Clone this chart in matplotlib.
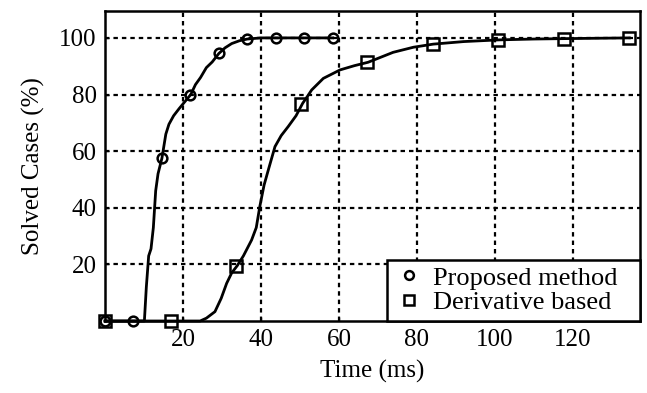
import matplotlib
matplotlib.use("Agg")
import matplotlib.pyplot as plt

plt.rcParams['font.family'] = ['Liberation Serif', 'DejaVu Serif']
plt.rcParams['font.size'] = 18

# curve samples (time in ms, solved %)
prop_t = [0, 10.1, 10.6, 11.2, 11.8, 12.4, 13.0, 13.6, 14.6, 15.6, 16.4, 17.6, 19.0, 20.5,
          22.0, 23.2, 24.5, 26.0, 27.5, 29.2, 30.8, 32.5, 34.5, 36.5, 40.0, 58.4]
prop_y = [0, 0, 12, 23, 25.5, 33, 46, 52, 57.5, 66, 69.5, 72.5, 75, 77.5,
          80, 83.5, 86, 89.5, 91.5, 94.5, 96.5, 98, 99, 99.6, 100, 100]
prop_mt = [0, 7.3, 14.6, 21.9, 29.2, 36.5, 43.8, 51.1, 58.4]
prop_my = [0, 0, 57.5, 80, 94.5, 99.5, 100, 100, 100]

deriv_t = [0, 24.4, 26.0, 28.2, 29.8, 31.2, 32.5, 33.9, 35.5, 37.6, 38.8, 39.7, 40.8, 41.9,
           43.6, 45.2, 47.0, 49.0, 50.7, 52.0, 53.0, 56.0, 60.3, 64.0, 67.5, 73.9, 79.1,
           84.2, 92.0, 101.0, 110.0, 118.0, 134.5]
deriv_y = [0, 0, 1, 3.3, 8, 13.3, 17, 19.5, 23, 28.6, 33, 40.4, 48, 53.4,
           61.6, 65.5, 68.7, 72.5, 76.9, 79.5, 81.6, 85.7, 88.7, 90.2, 91.4, 94.9, 96.7,
           97.8, 98.7, 99.3, 99.6, 99.75, 100]
deriv_mt = [0, 16.8, 33.6, 50.4, 67.3, 84.1, 100.9, 117.7, 134.5]
deriv_my = [0, 0, 19.5, 76.5, 91.4, 97.8, 99.3, 99.7, 100]

xticks = [20, 40, 60, 80, 100, 120]
yticks = [20, 40, 60, 80, 100]

fig = plt.figure(figsize=(6.47, 3.93), dpi=100)
ax = fig.add_axes([0.1623, 0.1832, 0.989 - 0.1623, 0.972 - 0.1832])

ax.plot(prop_t, prop_y, 'k-', lw=2, clip_on=False, zorder=3)
ax.plot(deriv_t, deriv_y, 'k-', lw=2, clip_on=False, zorder=3)
ax.plot(prop_mt, prop_my, 'o', ms=7, mfc='none', mec='k', mew=1.8,
        ls='none', clip_on=False, zorder=4, label='Proposed method')
ax.plot(deriv_mt, deriv_my, 's', ms=8.5, mfc='none', mec='k', mew=1.8,
        ls='none', clip_on=False, zorder=4, label='Derivative based')

ax.set_xlim(0, 137.2)
ax.set_ylim(0, 109.5)
ax.set_xticks(xticks)
ax.set_yticks(yticks)
ax.tick_params(direction='in', length=3, width=1, pad=6)
ax.grid(True, color='k', ls=(0, (2, 1.8)), lw=1.6)
for s in ax.spines.values():
    s.set_linewidth(1.8)

ax.set_xlabel('Time (ms)', labelpad=6)
ax.set_ylabel('Solved Cases (%)', labelpad=10)

leg = ax.legend(loc='lower left', bbox_to_anchor=(0.527, 0, 0.473, 0.2), mode='expand',
                borderaxespad=0, fancybox=False,
                edgecolor='k', framealpha=1, fontsize=19, handlelength=1.17,
                handletextpad=0.33, borderpad=0.25, labelspacing=0.05,
                markerscale=0.9)
leg.get_frame().set_linewidth(1.8)
leg.set_zorder(5)

fig.savefig('out.png', dpi=100)
